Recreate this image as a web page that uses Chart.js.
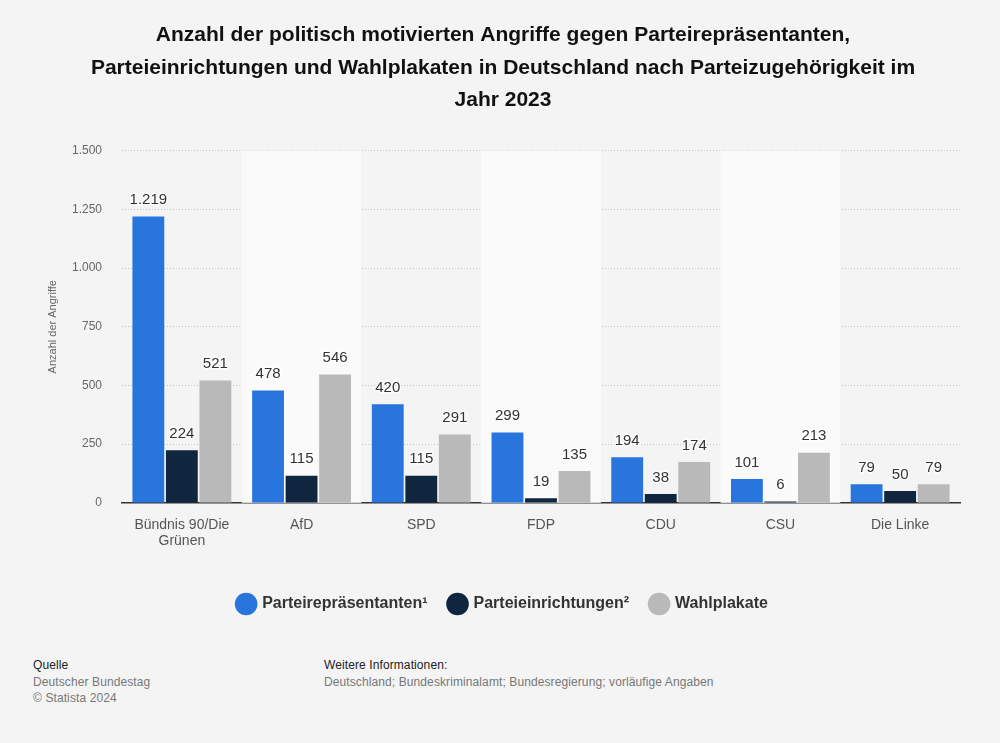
<!DOCTYPE html>
<html>
<head>
<meta charset="utf-8">
<script src="https://cdn.jsdelivr.net/npm/chart.js@4"></script>
<style>
  body { margin: 0; background: #f4f4f4; font-family: "Liberation Sans", Arial, Helvetica, sans-serif; }
  #wrap { position: relative; width: 1000px; height: 743px; background: #f4f4f4; }
  #chart-box { position: absolute; left: 0; top: 0; width: 1000px; height: 640px; }
  .foot { position: absolute; font-size: 12px; line-height: 16.5px; color: #777; letter-spacing: 0.1px; }
  .foot b { font-weight: normal; color: #222; }
</style>
</head>
<body>
<div id="wrap">
  <div id="chart-box"><canvas id="chart"></canvas></div>
  <div class="foot" style="left:33px; top:657px;"><b>Quelle</b><br>Deutscher Bundestag<br>© Statista 2024</div>
  <div class="foot" style="left:324px; top:657px;"><b>Weitere Informationen:</b><br>Deutschland; Bundeskriminalamt; Bundesregierung; vorläufige Angaben</div>
</div>
<script>
// Daten
const parteien = [["Bündnis 90/Die", "Grünen"], "AfD", "SPD", "FDP", "CDU", "CSU", "Die Linke"];
const repraesentanten = [1219, 478, 420, 299, 194, 101, 79];
const einrichtungen = [224, 115, 115, 19, 38, 6, 50];
const wahlplakate = [521, 546, 291, 135, 174, 213, 79];
const serienNamen = ["Parteirepräsentanten¹", "Parteieinrichtungen²", "Wahlplakate"];
const farben = ["#2876dd", "#10263f", "#b9b9b9"];

const FONT = '"Liberation Sans", Arial, Helvetica, sans-serif';
const fmt = n => n.toLocaleString("de-DE");

// abwechselnde Hintergrundstreifen
const bandPlugin = {
  id: "bands",
  beforeDatasetsDraw(chart) {
    const { ctx, chartArea, scales } = chart;
    const x = scales.x;
    const w = (chartArea.right - chartArea.left) / parteien.length;
    ctx.save();
    ctx.fillStyle = "#fafafa";
    for (let i = 1; i < parteien.length; i += 2) {
      const cx = x.getPixelForValue(i);
      ctx.fillRect(cx - w / 2, chartArea.top, w, chartArea.bottom - chartArea.top);
    }
    ctx.restore();
  }
};

// Werte über den Balken
const labelPlugin = {
  id: "valueLabels",
  afterDatasetsDraw(chart) {
    const { ctx } = chart;
    ctx.save();
    ctx.font = "15px " + FONT;
    ctx.textAlign = "center";
    ctx.textBaseline = "bottom";
    ctx.lineJoin = "round";
    chart.data.datasets.forEach((ds, di) => {
      chart.getDatasetMeta(di).data.forEach((bar, i) => {
        const t = fmt(ds.data[i]);
        ctx.strokeStyle = "rgba(255,255,255,0.7)";
        ctx.lineWidth = 3;
        ctx.strokeText(t, bar.x, bar.y - 9);
        ctx.fillStyle = "#333";
        ctx.fillText(t, bar.x, bar.y - 9);
      });
    });
    ctx.restore();
  }
};

const series = [repraesentanten, einrichtungen, wahlplakate];

new Chart(document.getElementById("chart"), {
  type: "bar",
  data: {
    labels: parteien,
    datasets: series.map((d, i) => ({
      label: serienNamen[i],
      data: d,
      backgroundColor: farben[i],
      categoryPercentage: 0.84,
      barPercentage: 0.95
    }))
  },
  options: {
    responsive: true,
    maintainAspectRatio: false,
    animation: false,
    layout: { padding: { left: 46, right: 40, top: 0, bottom: 18 } },
    plugins: {
      title: {
        display: true,
        text: [
          "Anzahl der politisch motivierten Angriffe gegen Parteirepräsentanten,",
          "Parteieinrichtungen und Wahlplakaten in Deutschland nach Parteizugehörigkeit im",
          "Jahr 2023"
        ],
        color: "#111",
        font: { family: FONT, size: 21, weight: "bold", lineHeight: 1.55 },
        padding: { top: 19, bottom: 34 }
      },
      legend: {
        position: "bottom",
        labels: {
          usePointStyle: true,
          pointStyle: "circle",
          boxWidth: 17,
          boxHeight: 17,
          padding: 22,
          color: "#333",
          font: { family: FONT, size: 16, weight: "bold" }
        }
      },
      tooltip: { enabled: false }
    },
    scales: {
      x: {
        afterFit: s => { s.height += 19; },
        grid: { display: false },
        border: { display: true, color: "#333", width: 1.5 },
        ticks: { color: "#555", padding: 6, font: { family: FONT, size: 14, lineHeight: 1.15 } }
      },
      y: {
        min: 0,
        max: 1500,
        afterFit: s => { s.width = 76; },
        ticks: {
          stepSize: 250,
          padding: 20,
          color: "#666",
          font: { family: FONT, size: 12 },
          callback: v => fmt(v)
        },
        grid: {
          color: "#c4c4c4",
          drawTicks: false,
          lineWidth: c => (c.tick && c.tick.value === 0 ? 0 : 1)
        },
        border: { display: false, dash: [1, 2] },
        title: {
          display: true,
          text: "Anzahl der Angriffe",
          color: "#666",
          padding: 0,
          font: { family: FONT, size: 11 }
        }
      }
    }
  },
  plugins: [bandPlugin, labelPlugin]
});
</script>
</body>
</html>
